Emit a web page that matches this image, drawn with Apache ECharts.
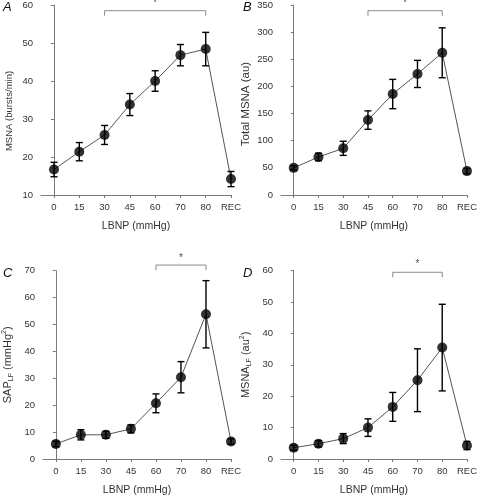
<!DOCTYPE html>
<html>
<head>
<meta charset="utf-8">
<script src="https://cdn.jsdelivr.net/npm/echarts@6/dist/echarts.min.js"></script>
<style>
html,body{margin:0;padding:0;background:#fff;}
#chart{width:480px;height:497px;}
</style>
</head>
<body>
<div id="chart"></div>
<script>
// ---- data ----
var categories = ['0', '15', '30', '45', '60', '70', '80', 'REC'];

var msnaMean   = [16.7, 21.4, 25.8, 33.8, 40.0, 46.8, 48.4, 14.2];
var msnaErr    = [1.9, 2.4, 2.5, 2.9, 2.7, 2.8, 4.4, 2.0];

var totalMean  = [50, 70, 86, 138, 186, 223, 262, 44];
var totalErr   = [4, 7, 13, 17, 27, 25, 46, 5];

var sapMean    = [5.6, 9.0, 9.0, 11.2, 20.7, 30.4, 53.8, 6.5];
var sapErr     = [1.0, 1.9, 1.3, 1.5, 3.5, 5.8, 12.5, 1.0];

var lfMean     = [3.6, 4.85, 6.5, 10.0, 16.6, 25.1, 35.5, 4.3];
var lfErr      = [0.8, 1.0, 1.6, 2.8, 4.6, 10.0, 13.8, 1.3];

// significance brackets: [fromIndex, toIndex, level, tickEnd, starLevel]
var bracketA = [2, 6, 58.5, 57.2, 60.4];
var bracketB = [3, 6, 339.5, 330, 354];
var bracketC = [4, 6, 72.1, 70.2, 74.6];
var bracketD = [4, 6, 59.5, 57.9, 62.2];

var yTicksA = [10, 60, 10];
var yTicksB = [0, 350, 50];
var yTicksC = [0, 70, 10];
var yTicksD = [0, 60, 10];

// ---- chart ----
var FONT = '"Liberation Sans", Arial, sans-serif';
var panels = [
  {letter: 'A', mean: msnaMean, err: msnaErr, br: bracketA, y: yTicksA,
   name: 'MSNA (bursts/min)', nameSize: 9.5, nameGap: 27, namePad: [0, 22, 0, 0], grid: {left: 41, top: 5, width: 190, height: 190}},
  {letter: 'B', mean: totalMean, err: totalErr, br: bracketB, y: yTicksB,
   name: 'Total MSNA (au)', nameSize: 11.5, nameGap: 29, namePad: [0, 8, 0, 0], grid: {left: 281, top: 5, width: 190, height: 190}},
  {letter: 'C', mean: sapMean, err: sapErr, br: bracketC, y: yTicksC,
   name: '{n|SAP}{s|LF}{n| (mmHg}{p|2}{n|)}', nameSize: 11, nameGap: 28, namePad: 0, grid: {left: 41, top: 270.7, width: 190, height: 189.6}},
  {letter: 'D', mean: lfMean, err: lfErr, br: bracketD, y: yTicksD,
   name: '{n|MSNA}{s|LF}{n| (au}{p|2}{n|)}', nameSize: 11, nameGap: 28, namePad: 0, grid: {left: 281, top: 270.7, width: 190, height: 189.6}}
];

var grids = [], xAxes = [], yAxes = [], series = [], graphics = [];
var axisColor = '#7a7a7a';
var textColor = '#333';
var idx = categories.map(function (c, i) { return i; });

panels.forEach(function (p, k) {
  grids.push(p.grid);
  xAxes.push({
    type: 'value', gridIndex: k, min: -0.514, max: 7,
    name: 'LBNP (mmHg)', nameLocation: 'middle', nameGap: 26,
    nameTextStyle: {fontFamily: FONT, fontSize: 10.5, color: textColor},
    axisLine: {show: true, onZero: false, lineStyle: {color: axisColor, width: 1}},
    axisTick: {show: true, length: 3, customValues: idx, lineStyle: {color: axisColor}},
    axisLabel: {customValues: idx, margin: 7, fontFamily: FONT, fontSize: 9.5, color: textColor,
      formatter: function (v) { return categories[Math.round(v)]; }},
    splitLine: {show: false}
  });
  var rich = {
    n: {fontFamily: FONT, fontSize: p.nameSize, color: textColor, lineHeight: 14, verticalAlign: 'middle'},
    s: {fontFamily: FONT, fontSize: 7, color: textColor, lineHeight: 7, verticalAlign: 'bottom'},
    p: {fontFamily: FONT, fontSize: 7, color: textColor, lineHeight: 7, verticalAlign: 'top'}
  };
  yAxes.push({
    type: 'value', gridIndex: k, min: p.y[0], max: p.y[1], interval: p.y[2],
    name: p.name, nameLocation: 'middle', nameGap: p.nameGap,
    nameTextStyle: {fontFamily: FONT, fontSize: p.nameSize, color: textColor, rich: rich, padding: p.namePad},
    axisLine: {show: true, lineStyle: {color: axisColor, width: 1}},
    axisTick: {show: true, length: 3, lineStyle: {color: axisColor}},
    axisLabel: {margin: 8, fontFamily: FONT, fontSize: 9.5, color: textColor},
    splitLine: {show: false}
  });

  // connecting line
  series.push({
    type: 'line', xAxisIndex: k, yAxisIndex: k, z: 2,
    data: p.mean.map(function (v, i) { return [i, v]; }),
    symbol: 'none', lineStyle: {color: '#555', width: 1}, silent: true
  });
  // error bars
  series.push({
    type: 'custom', xAxisIndex: k, yAxisIndex: k, z: 3,
    data: p.mean.map(function (v, i) { return [i, v - p.err[i], v + p.err[i]]; }),
    encode: {x: 0, y: [1, 2]},
    renderItem: function (params, api) {
      var lo = api.coord([api.value(0), api.value(1)]);
      var hi = api.coord([api.value(0), api.value(2)]);
      var w = 3.5;
      var st = {stroke: '#000', lineWidth: 1.4};
      return {type: 'group', children: [
        {type: 'line', shape: {x1: lo[0], y1: lo[1], x2: hi[0], y2: hi[1]}, style: st},
        {type: 'line', shape: {x1: lo[0] - w, y1: lo[1], x2: lo[0] + w, y2: lo[1]}, style: st},
        {type: 'line', shape: {x1: hi[0] - w, y1: hi[1], x2: hi[0] + w, y2: hi[1]}, style: st}
      ]};
    },
    silent: true
  });
  // means
  series.push({
    type: 'scatter', xAxisIndex: k, yAxisIndex: k, z: 4,
    data: p.mean.map(function (v, i) { return [i, v]; }),
    symbol: 'circle', symbolSize: 10, itemStyle: {color: '#000'}, silent: true
  });
  // significance bracket
  var b = p.br;
  series.push({
    type: 'line', xAxisIndex: k, yAxisIndex: k, z: 2, clip: false,
    data: [[b[0], b[3]], [b[0], b[2]], [b[1], b[2]], [b[1], b[3]]],
    symbol: 'none', lineStyle: {color: '#8a8a8a', width: 1}, silent: true
  });
  series.push({
    type: 'scatter', xAxisIndex: k, yAxisIndex: k, z: 2, clip: false,
    data: [[(b[0] + b[1]) / 2, b[4]]],
    symbolSize: 0.1, itemStyle: {color: 'rgba(0,0,0,0)'},
    label: {show: true, position: 'inside', formatter: '*', fontFamily: FONT, fontSize: 10, color: '#222'},
    silent: true
  });

  graphics.push({
    type: 'text', left: p.grid.left - 38, top: p.grid.top - 4,
    style: {text: p.letter, font: 'italic 13px ' + FONT, fill: '#111'}
  });
});

var chart = echarts.init(document.getElementById('chart'), null, {renderer: 'canvas'});
chart.setOption({
  animation: false,
  backgroundColor: '#fff',
  grid: grids, xAxis: xAxes, yAxis: yAxes, series: series, graphic: graphics
});
</script>
</body>
</html>
